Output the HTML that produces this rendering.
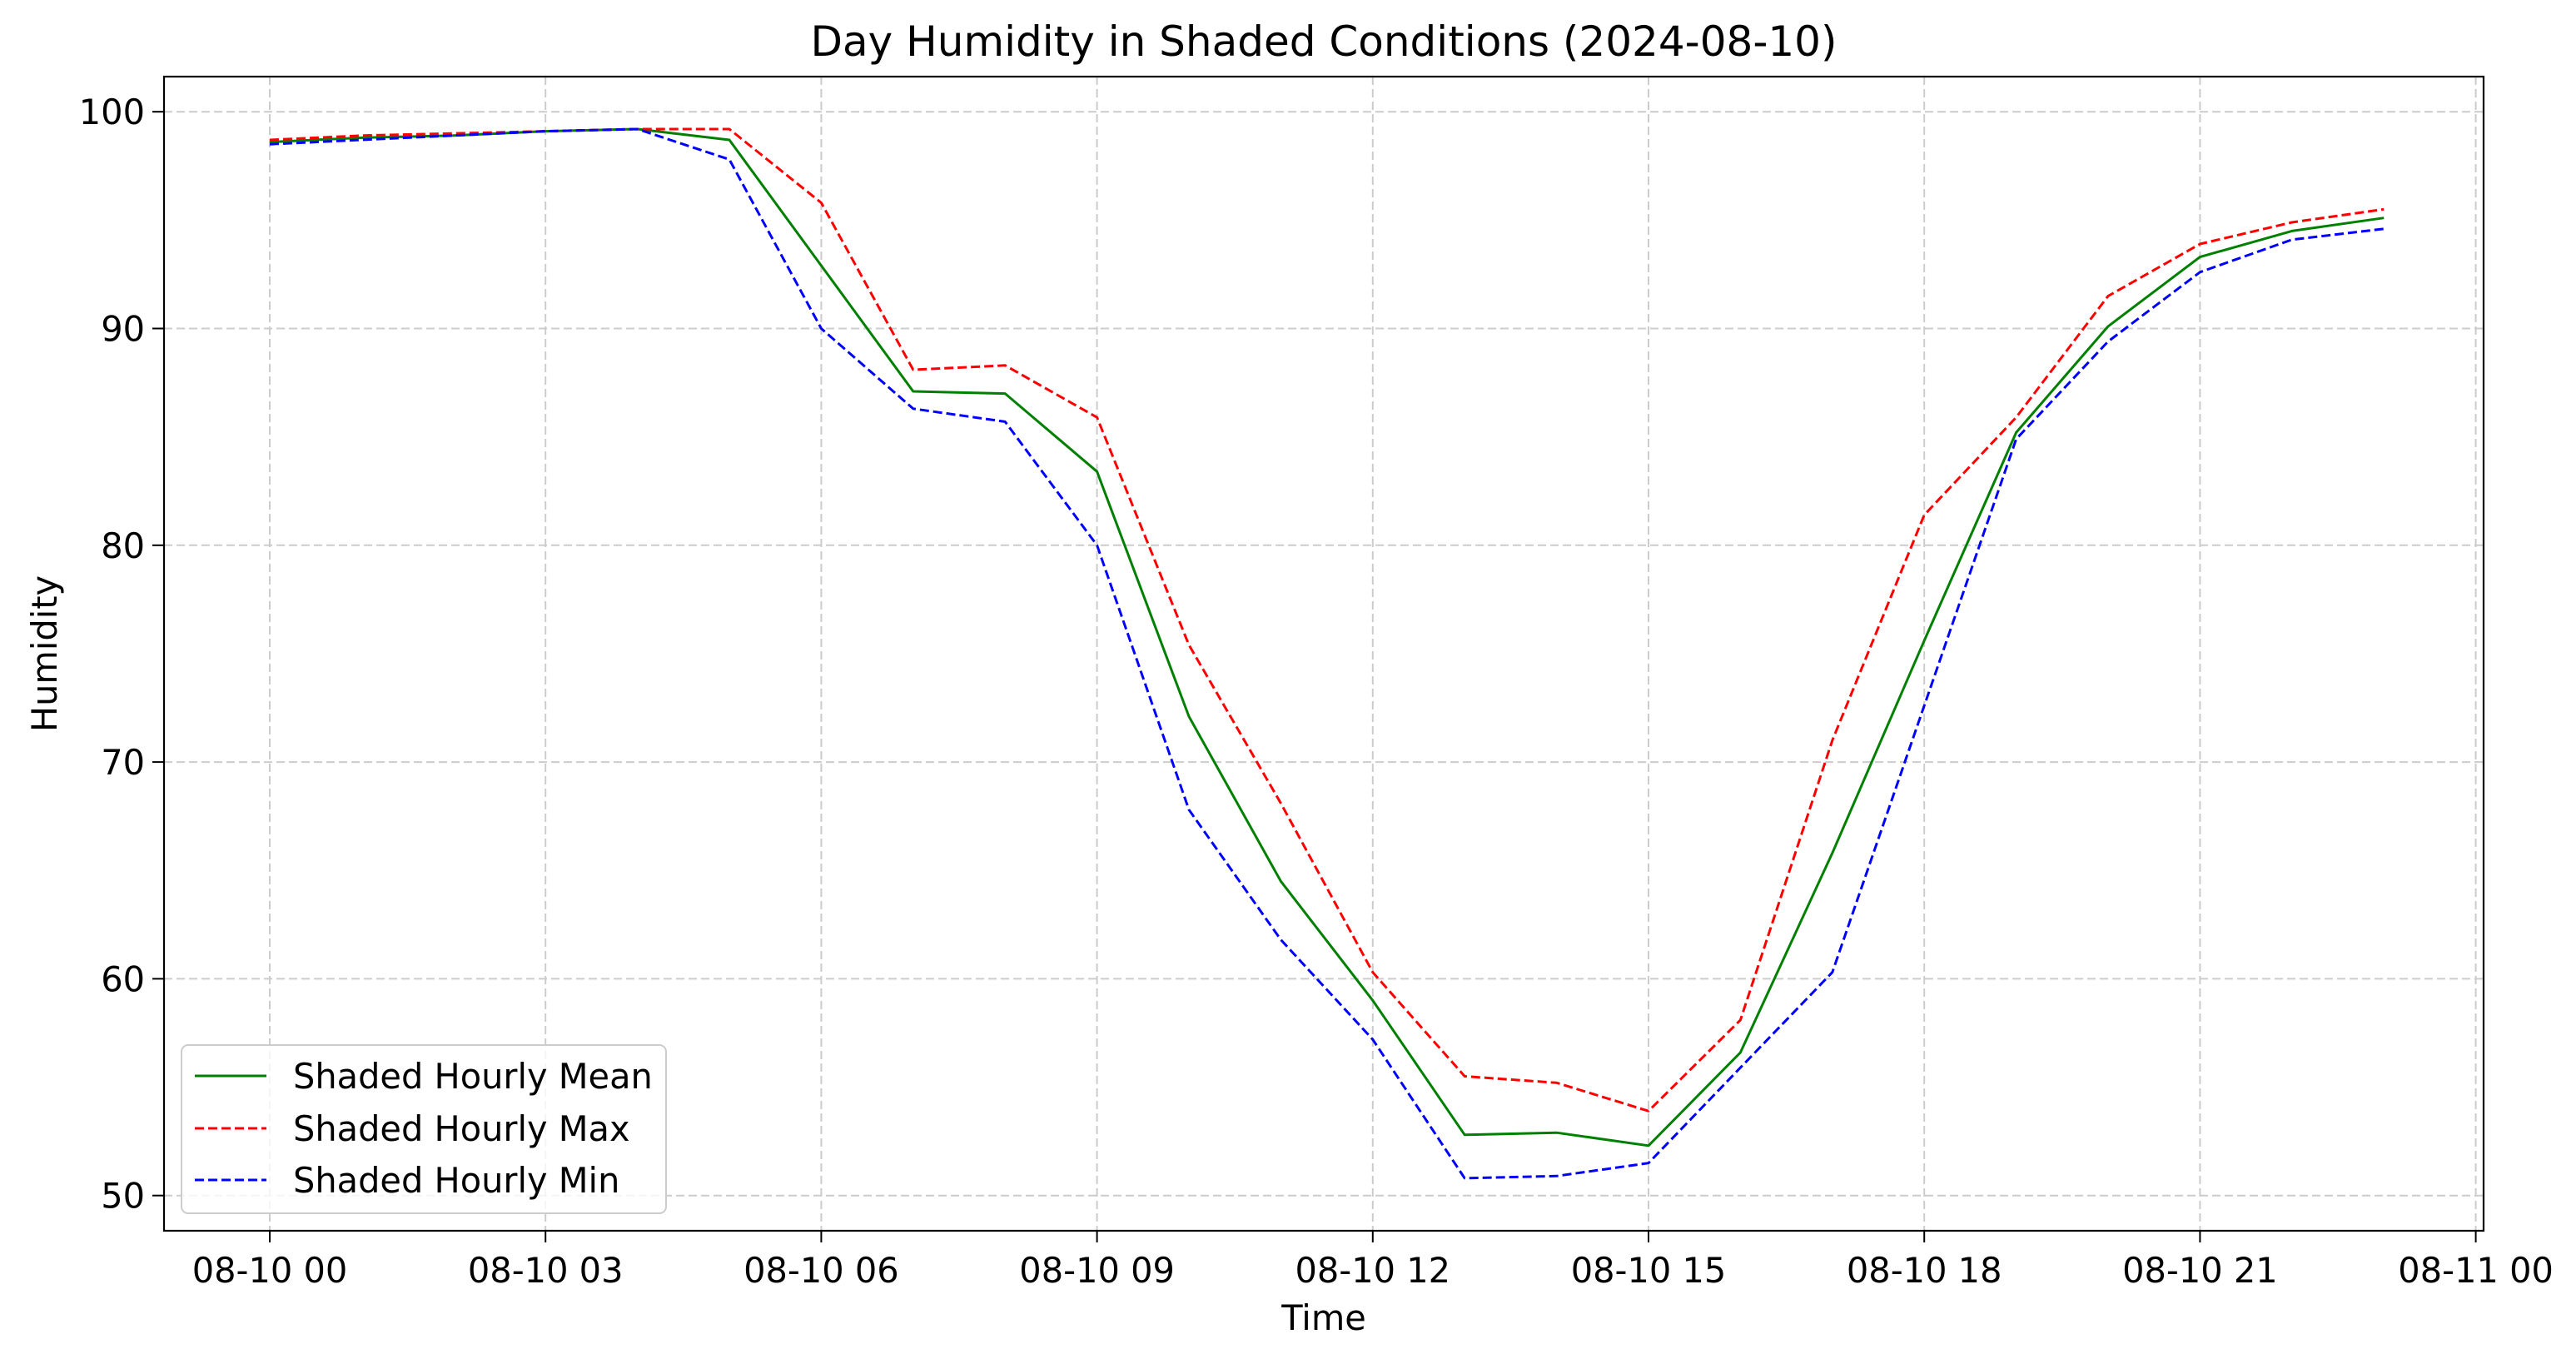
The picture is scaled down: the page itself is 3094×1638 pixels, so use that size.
<!DOCTYPE html>
<html><head><meta charset="utf-8"><style>
html,body{margin:0;padding:0;background:#fff}
svg{display:block}
text{font-family:"DejaVu Sans","Liberation Sans",sans-serif;fill:#000}
</style></head><body>
<svg id="chart" width="3094" height="1638" viewBox="0 0 3094 1638" xmlns="http://www.w3.org/2000/svg">
<rect width="3094" height="1638" fill="#fff"/>
<g id="grid"></g>
<g id="series"></g>
<rect x="197" y="92" width="2786" height="1386" fill="none" stroke="#000" stroke-width="2.2"/>
<g id="ticks"></g>
<text x="1590" y="67" font-size="50" text-anchor="middle">Day Humidity in Shaded Conditions (2024-08-10)</text>
<text x="1590" y="1597" font-size="41.5" text-anchor="middle">Time</text>
<text x="68" y="785" font-size="41.5" text-anchor="middle" transform="rotate(-90 68 785)">Humidity</text>
<g id="legend">
<rect x="218" y="1255" width="582" height="202" rx="8" fill="#fff" fill-opacity="0.8" stroke="#ccc" stroke-width="2"/>
<line x1="234" y1="1292" x2="320" y2="1292" stroke="#008000" stroke-width="3"/>
<text x="352" y="1307" font-size="41.5">Shaded Hourly Mean</text>
<line x1="234" y1="1355" x2="320" y2="1355" stroke="#ff0000" stroke-width="3" stroke-dasharray="11,5"/>
<text x="352" y="1370" font-size="41.5">Shaded Hourly Max</text>
<line x1="234" y1="1417" x2="320" y2="1417" stroke="#0000ff" stroke-width="3" stroke-dasharray="11,5"/>
<text x="352" y="1432" font-size="41.5">Shaded Hourly Min</text>
</g>
</svg>
<script>
const hours = [0,1,2,3,4,5,6,7,8,9,10,11,12,13,14,15,16,17,18,19,20,21,22,23];
const meanValues = [98.6,98.8,98.9,99.1,99.2,98.7,92.9,87.1,87.0,83.4,72.1,64.5,59.0,52.8,52.9,52.3,56.6,65.8,75.6,85.2,90.1,93.3,94.5,95.1];
const maxValues = [98.7,98.9,99.0,99.1,99.2,99.2,95.8,88.1,88.3,85.9,75.4,68.1,60.3,55.5,55.2,53.9,58.1,71.0,81.4,85.9,91.5,93.9,94.9,95.5];
const minValues = [98.5,98.7,98.9,99.1,99.2,97.8,90.0,86.3,85.7,80.0,67.8,61.8,57.2,50.8,50.9,51.5,55.9,60.3,72.6,84.9,89.4,92.6,94.1,94.6];
const xTickHours = [0,3,6,9,12,15,18,21,24];
const xTickLabels = ["08-10 00","08-10 03","08-10 06","08-10 09","08-10 12","08-10 15","08-10 18","08-10 21","08-11 00"];
const yTickValues = [50,60,70,80,90,100];

const NS = "http://www.w3.org/2000/svg";
function xPos(h){ return 324 + h * 110.4; }
function yPos(v){ return 134.2 + (100 - v) * 26.03; }
function mk(tag, attrs, parent){
  const el = document.createElementNS(NS, tag);
  for (const k in attrs) el.setAttribute(k, attrs[k]);
  parent.appendChild(el);
  return el;
}
const grid = document.getElementById('grid');
const ticks = document.getElementById('ticks');
const series = document.getElementById('series');

xTickHours.forEach((h, i) => {
  const x = xPos(h);
  const g = mk('line', {x1:x, y1:92, x2:x, y2:1478, stroke:'#cccccc', 'stroke-width':2, 'stroke-dasharray':'10,5'}, grid);
  
  
  const t = mk('line', {x1:x, y1:1478, x2:x, y2:1492, stroke:'#000', 'stroke-width':2}, ticks);
  
  
  const lbl = mk('text', {x:x, y:1540, 'font-size':41.5, 'text-anchor':'middle'}, ticks);
  lbl.textContent = xTickLabels[i];
  
  
});
yTickValues.forEach(v => {
  const y = yPos(v);
  const g = mk('line', {x1:197, y1:y, x2:2983, y2:y, stroke:'#cccccc', 'stroke-width':2, 'stroke-dasharray':'10,5'}, grid);
  
  
  const t = mk('line', {x1:183, y1:y, x2:197, y2:y, stroke:'#000', 'stroke-width':2}, ticks);
  
  
  const lbl = mk('text', {x:174, y:y+15, 'font-size':41.5, 'text-anchor':'end'}, ticks);
  lbl.textContent = String(v);
  
  
});
function drawLine(vals, color, dash, name){
  const pts = vals.map((v, i) => xPos(hours[i]).toFixed(1) + ',' + yPos(v).toFixed(1)).join(' ');
  const attrs = {points:pts, fill:'none', stroke:color, 'stroke-width':3, 'stroke-linejoin':'round'};
  if (dash) attrs['stroke-dasharray'] = dash;
  const p = mk('polyline', attrs, series);
  
  
}
drawLine(meanValues, '#008000', null, 'mean-line');
drawLine(maxValues, '#ff0000', '11,5', 'max-line');
drawLine(minValues, '#0000ff', '11,5', 'min-line');
</script>
</body></html>
